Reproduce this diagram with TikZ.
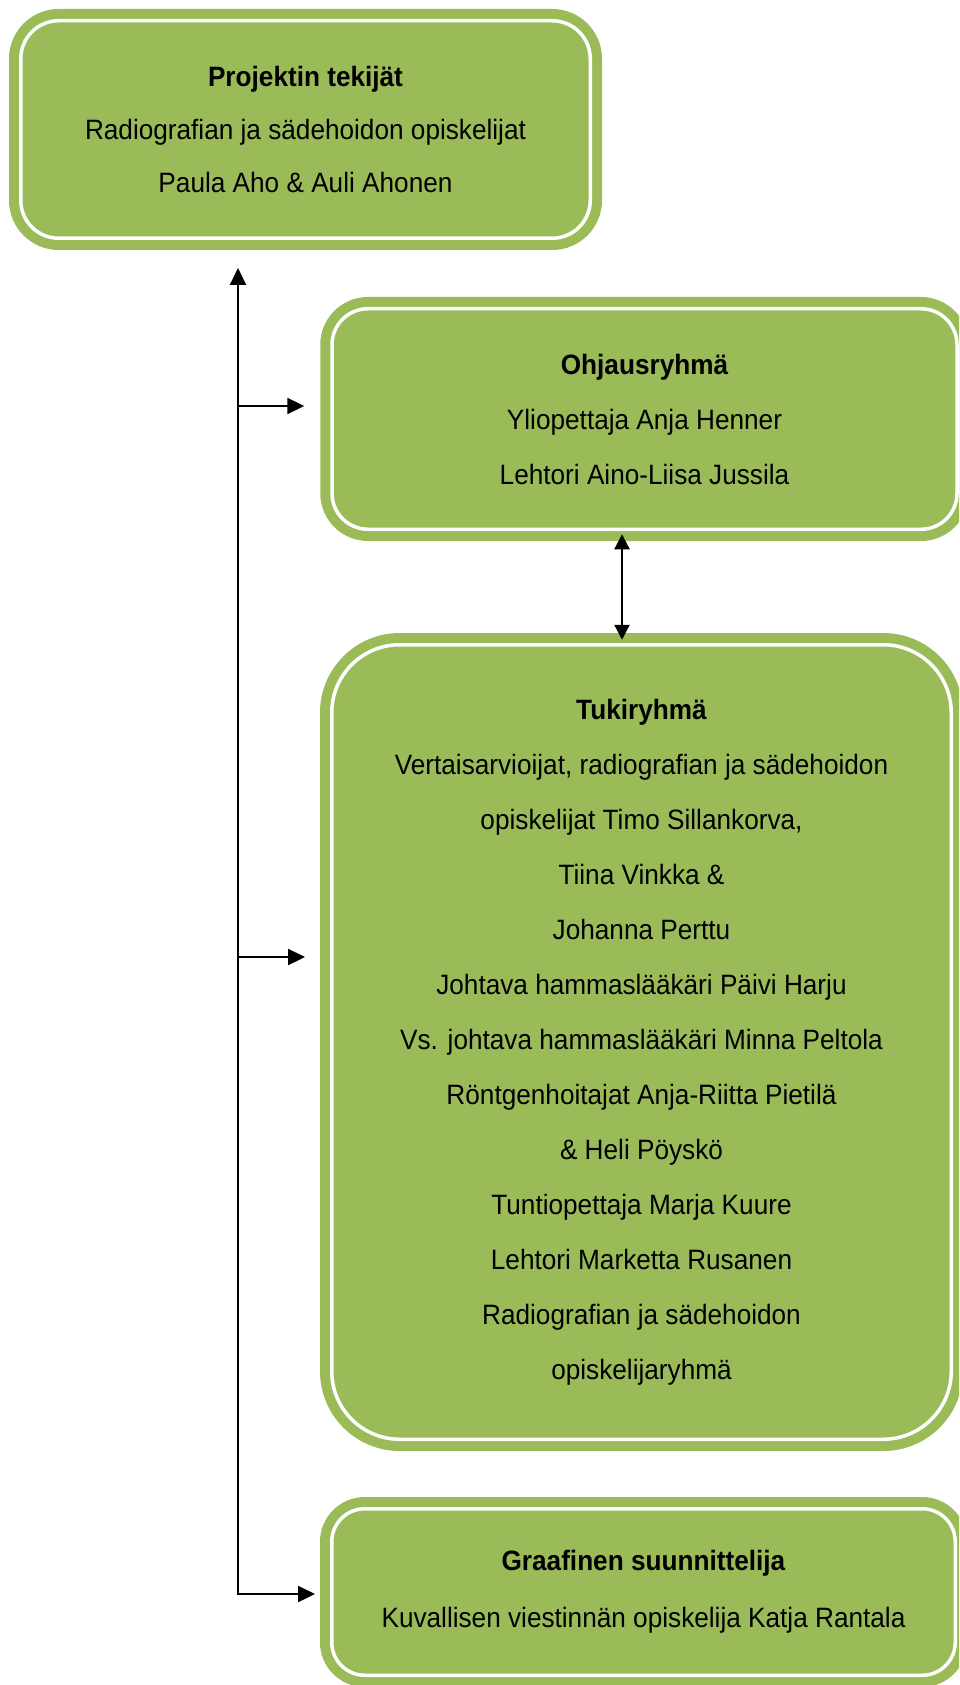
\documentclass[tikz,border=0pt]{standalone}
\usepackage{fontspec}
\setmainfont{Liberation Sans}[FakeStretch=0.935]
\usetikzlibrary{arrows.meta}
\definecolor{olive}{HTML}{9BBB59}
\tikzset{
  gbox/.style={draw=olive, double=white, line width=10pt, double distance=3.5pt,
    fill=olive, inner sep=0pt, align=center, text=black},
  arr/.style={line width=2.3pt, line cap=rect, -{Triangle[length=17pt,width=16pt]}},
  darr/.style={line width=2.3pt, {Triangle[length=15pt,width=15pt]}-{Triangle[length=15pt,width=15pt]}},
}
\begin{document}
\begin{tikzpicture}[x=1pt,y=-1pt]
\useasboundingbox (0,0) rectangle (959,1685);
\clip (0,0) rectangle (959,1685);
\node[gbox, rounded corners=38pt, minimum width=569.5pt, minimum height=217.5pt,
  font=\fontsize{28}{53}\selectfont] (b1) at (305.5,129.5)
  {\textbf{Projektin tekijät}\\Radiografian ja sädehoidon opiskelijat\\Paula Aho \& Auli Ahonen};
\node[gbox, rounded corners=36pt, minimum width=625pt, minimum height=220.5pt,
  font=\fontsize{28}{55}\selectfont] (b2) at (644.5,419)
  {\textbf{Ohjausryhmä}\\Yliopettaja Anja Henner\\Lehtori Aino-Liisa Jussila};
\node[gbox, rounded corners=68pt, minimum width=619.5pt, minimum height=794.5pt,
  font=\fontsize{28}{55}\selectfont] (b3) at (641.5,1042)
  {\textbf{Tukiryhmä}\\Vertaisarvioijat, radiografian ja sädehoidon\\opiskelijat Timo Sillankorva,\\Tiina Vinkka \&\\Johanna Perttu\\Johtava hammaslääkäri Päivi Harju\\Vs. johtava hammaslääkäri Minna Peltola\\Röntgenhoitajat Anja-Riitta Pietilä\\\& Heli Pöyskö\\Tuntiopettaja Marja Kuure\\Lehtori Marketta Rusanen\\Radiografian ja sädehoidon\\opiskelijaryhmä};
\node[gbox, rounded corners=33pt, minimum width=623.5pt, minimum height=166.5pt,
  font=\fontsize{28}{57}\selectfont] (b4) at (643.5,1592)
  {\textbf{Graafinen suunnittelija}\\Kuvallisen viestinnän opiskelija Katja Rantala};
\coordinate (vb) at (238,1594);
\coordinate (j2) at (238,406);
\coordinate (j3) at (238,957);
\draw[arr, shorten >=24.75pt] (vb) -- (vb |- b1.south);
\draw[arr, shorten >=11.75pt] (vb) -- (vb -| b4.west);
\draw[arr, shorten >=22.75pt] (j2) -- (j2 -| b2.west);
\draw[arr, shorten >=21.75pt] (j3) -- (j3 -| b3.west);
\draw[darr] (b2.south -| 622,0) -- (b3.north -| 622,0);
\end{tikzpicture}
\end{document}
